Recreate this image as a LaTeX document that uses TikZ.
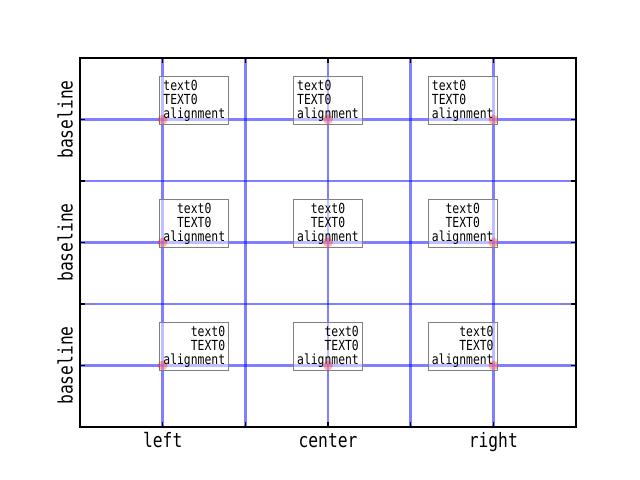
\documentclass[tikz,border=0pt]{standalone}
\usepackage{fontspec}
\newfontfamily\gothfont[FakeStretch=0.82]{DejaVu Sans Mono}
\begin{document}
\begin{tikzpicture}[x=0.72pt,y=-0.72pt,
    gridline/.style={blue,opacity=0.5,line width=2pt},
    frame/.style={black,line width=0.8pt},
    tick/.style={black,line width=0.8pt},
    anchordot/.style={circle,fill=red,fill opacity=0.3,inner sep=0pt,minimum size=7pt},
    txtbox/.style={draw=black!50,line width=0.7pt,fill=white,fill opacity=0.5,text opacity=1,
      font=\gothfont\fontsize{10}{10.4}\selectfont,inner xsep=2.7pt,inner ysep=0pt,minimum height=34.4pt},
    ticklabel/.style={font=\gothfont\fontsize{14.3}{14.3}\selectfont,inner sep=0pt,anchor=base}]
  \useasboundingbox (0,0) rectangle (640,480);
  \coordinate (sw) at (80,427);
  \coordinate (ne) at (576,58);
  % grid
  \begin{scope}
    \clip (sw) rectangle (ne);
    \foreach \i in {0,...,6}{
      \draw[gridline] (80+82.667*\i,58) -- (80+82.667*\i,427);
      \draw[gridline] (80,427-61.5*\i) -- (576,427-61.5*\i);
    }
  \end{scope}
  % text boxes
  \foreach \c/\anc/\dx in {1/south west/-3.5, 3/south/0, 5/south east/4.5}
    \foreach \r/\al in {5/left, 3/center, 1/right}
      \node[txtbox,anchor=\anc,align=\al] (box\c\r) at (80+82.667*\c+\dx,427-61.5*\r+5.7)
        {text0\\TEXT0\\alignment};
  % anchor points
  \foreach \c in {1,3,5}
    \foreach \r in {1,3,5}
      \node[anchordot] (dot\c\r) at (80+82.667*\c,427-61.5*\r) {};
  % ticks
  \foreach \i in {1,...,5}{
    \draw[tick] (80+82.667*\i,427) -- ++(0,-4.9);
    \draw[tick] (80+82.667*\i,58) -- ++(0,4.9);
    \draw[tick] (80,427-61.5*\i) -- ++(4.9,0);
    \draw[tick] (576,427-61.5*\i) -- ++(-4.9,0);
  }
  \draw[frame] (sw) rectangle (ne);
  % tick labels
  \node[ticklabel] (xl1) at (162.7,447) {left};
  \node[ticklabel] (xl3) at (328,447) {center};
  \node[ticklabel] (xl5) at (493.3,447) {right};
  \foreach \r in {1,3,5}
    \node[ticklabel,rotate=90] (yl\r) at (72.5,427-61.5*\r) {baseline};
\end{tikzpicture}
\end{document}
